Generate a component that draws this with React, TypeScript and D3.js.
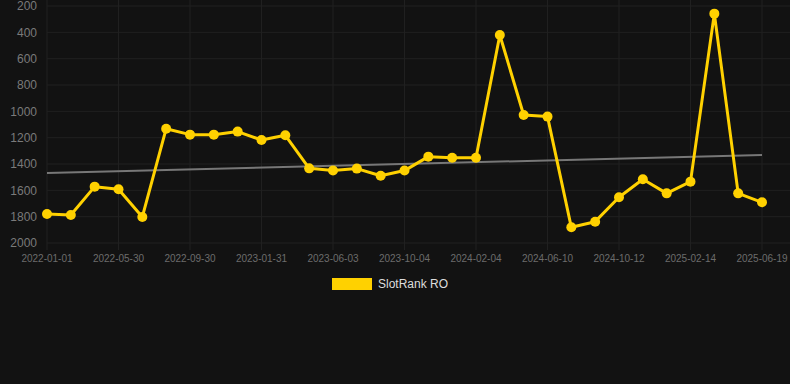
import React from "react";
import * as d3 from "d3";

const tickLabels = [
  "2022-01-01", "2022-05-30", "2022-09-30", "2023-01-31", "2023-06-03", "2023-10-04",
  "2024-02-04", "2024-06-10", "2024-10-12", "2025-02-14", "2025-06-19",
];
const values = [
  1780, 1787, 1572, 1592, 1802, 1132, 1177, 1177, 1154, 1218, 1182,
  1433, 1450, 1435, 1489, 1450, 1344, 1352, 1352, 420, 1028, 1040,
  1881, 1838, 1653, 1516, 1623, 1534, 258, 1623, 1691,
];
const trend = [1468, 1332];
const yTicks = [200, 400, 600, 800, 1000, 1200, 1400, 1600, 1800, 2000];
const seriesName = "SlotRank RO";

const W = 790, H = 384;
const left = 47, right = 762, top = 6, bottom = 243;
const font = "Helvetica, Arial, 'Liberation Sans', sans-serif";

export default function App() {
  const idx = values.map((_, i) => i);
  const x = d3.scalePoint<number>().domain(idx).range([left, right]);
  const y = d3.scaleLinear().domain([200, 2000]).range([top, bottom]);
  const line = d3.line<number>().x((_, i) => x(i)!).y((d) => y(d));
  const tickIdx = tickLabels.map((_, k) => k * 3);
  return (
    <div style={{ position: "fixed", left: 0, top: 0, width: W, height: H, background: "#121212" }}>
      <svg width={W} height={H} style={{ display: "block" }}>
        <rect width={W} height={H} fill="#121212" />
        {yTicks.map((t) => (
          <g key={t}>
            <line x1={left} x2={W} y1={y(t)} y2={y(t)} stroke="#202020" strokeWidth={1} />
            <text x={37} y={y(t)} dy="0.35em" textAnchor="end" fill="#7a7a7a" fontSize={12} fontFamily={font}>{t}</text>
          </g>
        ))}
        {tickIdx.map((ti, k) => (
          <g key={ti}>
            <line x1={x(ti)} x2={x(ti)} y1={0} y2={bottom + 7} stroke="#202020" strokeWidth={1} />
            <text x={x(ti)} y={262} textAnchor="middle" fill="#6c6c6c" fontSize={10} fontFamily={font}>{tickLabels[k]}</text>
          </g>
        ))}
        <line x1={x(0)} x2={x(values.length - 1)} y1={y(trend[0])} y2={y(trend[1])} stroke="#777" strokeWidth={2} />
        <path d={line(values) || ""} fill="none" stroke="#FFD100" strokeWidth={3} strokeLinejoin="round" />
        {values.map((v, i) => (
          <circle key={i} cx={x(i)} cy={y(v)} r={5} fill="#FFD100" />
        ))}
        <rect x={332} y={278} width={40} height={12} fill="#FFD100" />
        <text x={378} y={284} dy="0.35em" fill="#ddd" fontSize={12} fontFamily={font}>{seriesName}</text>
      </svg>
    </div>
  );
}
